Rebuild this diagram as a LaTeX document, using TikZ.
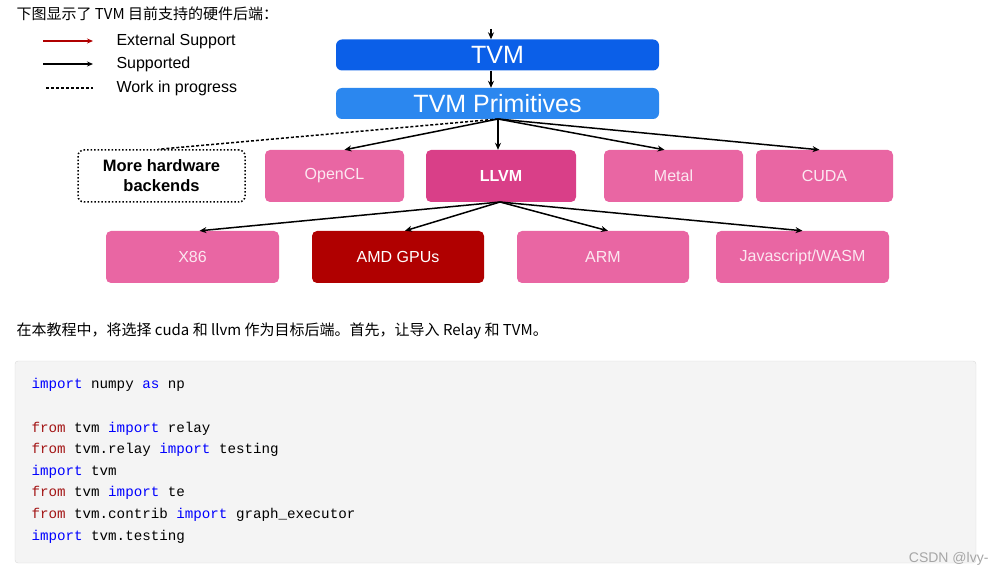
\documentclass[tikz,border=0pt]{standalone}
\usepackage{fontspec}
\setmainfont{Liberation Sans}
\setmonofont{Liberation Mono}
\newfontfamily\cjk{Noto Sans CJK SC}
\usetikzlibrary{positioning,arrows.meta}
\definecolor{tvmblue}{HTML}{0B5FE8}
\definecolor{primblue}{HTML}{2B87EF}
\definecolor{hwpink}{HTML}{E966A3}
\definecolor{llvmpink}{HTML}{D93F88}
\definecolor{amdred}{HTML}{B00000}
\definecolor{kwblue}{HTML}{0000FF}
\definecolor{kwred}{HTML}{A31515}
\tikzset{
  layer/.style={rounded corners=6pt, draw=none, text=white, minimum width=323pt, minimum height=31pt, font=\fontsize{25}{25}\selectfont},
  hw/.style={rounded corners=5pt, fill=hwpink, text=white!85!hwpink, minimum height=52pt, font=\fontsize{16}{16}\selectfont},
  link/.style={-{Stealth[length=7pt,width=6pt]}, line width=1.5pt},
  code/.style={anchor=west, font=\ttfamily\fontsize{14.2}{14}\selectfont}
}
\begin{document}
\begin{tikzpicture}[x=1pt,y=-1pt]
\useasboundingbox (0,0) rectangle (996,577);
% caption text
\node[anchor=west, font=\cjk\fontsize{15}{15}\selectfont] (cap1) at (13,14) {下图显示了 TVM 目前支持的硬件后端：};
% legend
\coordinate (l1a) at (43,41); \coordinate (l1b) at (93,41);
\coordinate (l2a) at (43,64); \coordinate (l2b) at (93,64);
\coordinate (l3a) at (46,88); \coordinate (l3b) at (93,88);
\draw[-{Stealth[length=6pt,width=5pt]}, line width=1.3pt, amdred] (l1a) -- (l1b);
\draw[-{Stealth[length=6pt,width=5pt]}, line width=1.3pt] (l2a) -- (l2b);
\draw[dash pattern=on 3pt off 2pt, line width=1.5pt] (l3a) -- (l3b);
\node[anchor=west, font=\fontsize{16}{16}\selectfont] (t1) at (113,41) {External Support};
\node[anchor=west, font=\fontsize{16}{16}\selectfont] (t2) at (113,64) {Supported};
\node[anchor=west, font=\fontsize{16}{16}\selectfont] (t3) at (113,88) {Work in progress};
% layers
\coordinate (in) at (491,29);
\node[layer, fill=tvmblue] (tvm) at (497.5,55) {TVM};
\node[layer, fill=primblue] (prim) at (497.5,103.5) {TVM Primitives};
\draw[link, line width=1.2pt] (in) -- (tvm.north -| in);
\draw[link] (tvm.south -| in) -- (prim.north -| in);
% first row
\node[draw, dotted, line width=1.5pt, rounded corners=6pt, minimum width=167pt, minimum height=52pt, align=center, font=\bfseries\fontsize{16.5}{20}\selectfont] (more) at (161.5,176) {More hardware\\backends};
\node[hw, minimum width=139pt] (ocl) at (334.5,176) {OpenCL};
\node[hw, fill=llvmpink, text=white, minimum width=150pt, font=\bfseries\fontsize{16}{16}\selectfont] (llvm) at (501,176) {LLVM};
\node[hw, minimum width=139pt] (metal) at (673.5,176) {Metal};
\node[hw, minimum width=137pt] (cuda) at (824.5,176) {CUDA};
% second row
\node[hw, minimum width=173pt] (x86) at (192.5,257) {X86};
\node[hw, fill=amdred, text=white, minimum width=172pt] (amd) at (398,257) {AMD GPUs};
\node[hw, minimum width=172pt] (arm) at (603,257) {ARM};
\node[hw, minimum width=173pt] (js) at (802.5,257) {Javascript/WASM};
% links
\coordinate (pb) at (498,119);
\draw[dash pattern=on 3pt off 2pt, line width=1.5pt] (pb) -- ([xshift=-3pt]more.north);
\draw[link] (pb) -- ([xshift=10pt]ocl.north);
\draw[link] (pb) -- (llvm.north -| pb);
\draw[link] (pb) -- ([xshift=-9pt]metal.north);
\draw[link] (pb) -- ([xshift=-5pt]cuda.north);
\coordinate (lb) at (500,202);
\draw[link] (lb) -- ([xshift=7pt]x86.north);
\draw[link] (lb) -- ([xshift=7pt]amd.north);
\draw[link] (lb) -- ([xshift=5pt]arm.north);
\draw[link] (lb) -- (js.north);
% second paragraph
\node[anchor=west, font=\cjk\fontsize{15}{15}\selectfont] (cap2) at (13,331) {在本教程中，将选择 cuda 和 llvm 作为目标后端。首先，让导入 Relay 和 TVM。};
% code block
\draw[fill=black!4.5, draw=black!15, rounded corners=3pt] (15,361) rectangle (976,563);
\node[code] (c1) at (28,385) {\textcolor{kwblue}{import} numpy \textcolor{kwblue}{as} np};
\node[code] (c2) at (28,429) {\textcolor{kwred}{from} tvm \textcolor{kwblue}{import} relay};
\node[code] (c3) at (28,450) {\textcolor{kwred}{from} tvm.relay \textcolor{kwblue}{import} testing};
\node[code] (c4) at (28,472) {\textcolor{kwblue}{import} tvm};
\node[code] (c5) at (28,493) {\textcolor{kwred}{from} tvm \textcolor{kwblue}{import} te};
\node[code] (c6) at (28,515) {\textcolor{kwred}{from} tvm.contrib \textcolor{kwblue}{import} graph\_executor};
\node[code] (c7) at (28,537) {\textcolor{kwblue}{import} tvm.testing};
% watermark
\node[anchor=east, text=black!35, font=\fontsize{14}{14}\selectfont] (wm) at (992,559) {CSDN @lvy-};
\end{tikzpicture}
\end{document}
